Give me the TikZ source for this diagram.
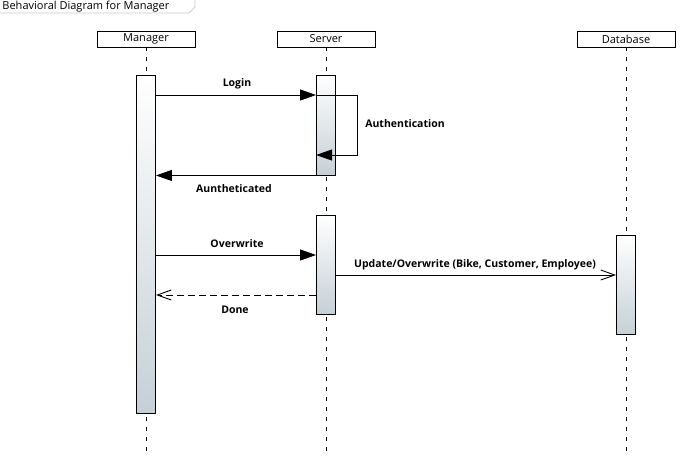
\documentclass[tikz,border=0pt]{standalone}
\usepackage{fontspec}
\setmainfont{Open Sans}
\usetikzlibrary{positioning,calc,arrows.meta}
\definecolor{actgray}{HTML}{C5D0D6}
\definecolor{framegray}{HTML}{C8C8C8}

\begin{document}
\begin{tikzpicture}[x=1pt, y=-1pt, line width=0.9pt]
	\useasboundingbox (0,0) rectangle (683,467);
	\begin{scope}
		\tikzstyle{every node}=[font=\fontsize{11}{13}\selectfont, inner sep=1pt]
		\tikzstyle{head}=[draw, minimum width=98pt, minimum height=16pt, inner sep=0pt]
		\tikzstyle{act}=[draw, top color=white, bottom color=actgray, minimum width=19pt, inner sep=0pt]
		\tikzstyle{life}=[dash pattern=on 4pt off 6pt]
		\tikzstyle{lbl}=[font=\fontsize{10.5}{12}\selectfont\bfseries]
		\tikzstyle{call}=[-{Triangle[length=16pt, width=11pt]}]
		\tikzstyle{reply}=[-{Straight Barb[length=14pt, width=10pt]}]

		% frame title
		\node[anchor=west] (ttl) at (1,7) {Behavioral Diagram for Manager};
		\draw[framegray, line width=0.7pt] (0,13) -- (189,13) -- (195,7) -- (195,0);

		% lifeline heads
		\node[head] (mgr) at (146,39) {Manager};
		\node[head] (srv) at (326,39) {Server};
		\node[head] (db) at (626,39) {Database};

		\coordinate (mgrend) at (146,452);
		\coordinate (srvend) at (326,452);
		\coordinate (dbend) at (626,452);

		\draw[life] (mgr) -- (mgrend);
		\draw[life] (srv) -- (srvend);
		\draw[life] (db) -- (dbend);

		% activations
		\node[act, minimum height=338pt] (mact) at (146,244) {};
		\node[act, minimum height=100pt] (sact1) at (326,125) {};
		\node[act, minimum height=99pt] (sact2) at (326,264.5) {};
		\node[act, minimum height=99pt] (dact) at (626,284.5) {};

		\coordinate (selfr) at (357,125);

		% messages
		\draw[call] (mact.east |- 0,95) -- (sact1.west |- 0,95);
		\draw[call] (sact1.west |- 0,95) -- (selfr |- 0,95) -- (selfr |- 0,155) -- (sact1.west |- 0,155);
		\draw[call] (sact1.south west) -- (mact.east |- sact1.south);
		\draw[call] (mact.east |- 0,255) -- (sact2.west |- 0,255);
		\draw[reply] (sact2.east |- 0,275) -- (dact.west |- 0,275);
		\draw[reply, dash pattern=on 7pt off 4pt] (sact2.west |- 0,295) -- (mact.east |- 0,295);

		\node[lbl] (login) at (237,84) {Login};
		\node[lbl] (auth) at (405,124) {Authentication};
		\node[lbl] (authd) at (234,189) {Auntheticated};
		\node[lbl] (over) at (237,244) {Overwrite};
		\node[lbl] (upd) at (475,265) {Update/Overwrite (Bike, Customer, Employee)};
		\node[lbl] (done) at (235,310) {Done};
	\end{scope}
\end{tikzpicture}
\end{document}
